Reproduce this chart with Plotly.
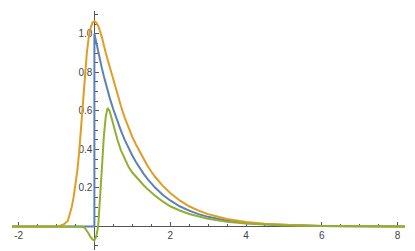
import plotly.graph_objects as go

# ---- data ----
blue_x = [-2.2, 0.0, 0.0, 0.05, 0.1, 0.15, 0.2, 0.25, 0.3, 0.4, 0.5, 0.6, 0.7, 0.8, 0.9, 1.0,
          1.1, 1.2, 1.3, 1.4, 1.5, 1.6, 1.8, 2.0, 2.25, 2.5, 2.75, 3.0, 3.5, 4.0, 4.5, 5.0,
          6.0, 7.0, 8.2]
blue_y = [0.0, 0.0, 1.0, 0.951, 0.905, 0.861, 0.819, 0.779, 0.741, 0.670, 0.607, 0.549,
          0.497, 0.449, 0.407, 0.368, 0.333, 0.301, 0.273, 0.247, 0.223, 0.202, 0.165,
          0.135, 0.105, 0.082, 0.064, 0.050, 0.030, 0.018, 0.011, 0.007, 0.0025, 0.001,
          0.0003]

orange_x = [-2.2, -1.0, -0.9, -0.8, -0.7, -0.65, -0.6, -0.55, -0.5, -0.45, -0.4, -0.35, -0.3,
            -0.25, -0.2, -0.15, -0.1, -0.05, 0.0, 0.05, 0.1, 0.15, 0.2, 0.3, 0.4, 0.5, 0.6,
            0.7, 0.8, 0.9, 1.0, 1.1, 1.2, 1.3, 1.4, 1.5, 1.6, 1.8, 2.0, 2.25, 2.5, 2.75,
            3.0, 3.5, 4.0, 4.5, 5.0, 6.0, 7.0, 8.2]
orange_y = [0.0, 0.0, 0.004, 0.012, 0.03, 0.06, 0.10, 0.15, 0.21, 0.29, 0.39, 0.52, 0.66,
            0.79, 0.90, 0.98, 1.03, 1.058, 1.065, 1.058, 1.04, 1.012, 0.98, 0.90, 0.83,
            0.76, 0.69, 0.625, 0.565, 0.51, 0.465, 0.424, 0.385, 0.349, 0.315, 0.285,
            0.258, 0.212, 0.174, 0.135, 0.105, 0.082, 0.064, 0.039, 0.023, 0.014, 0.009,
            0.003, 0.001, 0.0004]

green_x = [-2.2, -0.35, -0.3, -0.25, -0.2, -0.15, -0.1, -0.05, 0.0, 0.05, 0.1, 0.15, 0.2,
           0.25, 0.3, 0.35, 0.4, 0.45, 0.5, 0.55, 0.6, 0.7, 0.8, 0.9, 1.0, 1.1, 1.2, 1.3,
           1.4, 1.5, 1.6, 1.8, 2.0, 2.25, 2.5, 3.0, 3.5, 4.0, 4.5, 5.0, 6.0, 7.0, 8.2]
green_y = [0.0, 0.0, -0.002, -0.008, -0.02, -0.038, -0.055, -0.067, -0.072, -0.05, 0.0,
           0.13, 0.31, 0.47, 0.57, 0.615, 0.60, 0.565, 0.525, 0.49, 0.455, 0.395, 0.35,
           0.31, 0.28, 0.256, 0.235, 0.214, 0.195, 0.177, 0.16, 0.13, 0.105, 0.083, 0.065,
           0.040, 0.024, 0.015, 0.009, 0.0055, 0.002, 0.0008, 0.0003]

x_tick_vals = [-2, 2, 4, 6, 8]
x_tick_text = ["-2", "2", "4", "6", "8"]
y_tick_vals = [0.2, 0.4, 0.6, 0.8, 1.0]
y_tick_text = ["0.2", "0.4", "0.6", "0.8", "1.0"]

x_range = [-2.174, 8.195]
y_range = [-0.122, 1.118]

fig = go.Figure()
for xs, ys, col in [(blue_x, blue_y, "#5E81B5"),
                    (orange_x, orange_y, "#E19C24"),
                    (green_x, green_y, "#8FB032")]:
    fig.add_trace(go.Scatter(x=xs, y=ys, mode="lines",
                             line=dict(color=col, width=2, shape="linear"),
                             showlegend=False, hoverinfo="skip"))

axis_col = "#555555"
font = dict(family="Liberation Sans, Arial, sans-serif", size=10, color="#444444")

xpos = (0 - y_range[0]) / (y_range[1] - y_range[0])
ypos = (0 - x_range[0]) / (x_range[1] - x_range[0])

# the page body has an 8px margin, so the figure is shrunk and offset accordingly
fig.update_layout(
    width=407, height=243,
    margin=dict(l=4, r=10, t=3, b=1),
    paper_bgcolor="white", plot_bgcolor="white",
    xaxis=dict(range=x_range, showgrid=False, zeroline=False, automargin=False,
               showline=True, linecolor=axis_col, linewidth=1,
               anchor="free", position=xpos, side="bottom",
               tickmode="array", tickvals=x_tick_vals, ticktext=x_tick_text,
               ticks="inside", ticklen=4, tickcolor=axis_col, tickwidth=1,
               minor=dict(ticks="inside", ticklen=2.5, tickcolor=axis_col,
                          tick0=0, dtick=0.5, showgrid=False),
               tickfont=font, layer="below traces"),
    yaxis=dict(range=y_range, showgrid=False, zeroline=False, automargin=False,
               showline=True, linecolor=axis_col, linewidth=1,
               anchor="free", position=ypos, side="left",
               tickmode="array", tickvals=y_tick_vals, ticktext=y_tick_text,
               ticks="inside", ticklen=4, tickcolor=axis_col, tickwidth=1,
               minor=dict(ticks="inside", ticklen=2.5, tickcolor=axis_col,
                          tick0=0, dtick=0.05, showgrid=False),
               tickfont=font, layer="below traces"),
)

fig.write_html("out.html")
